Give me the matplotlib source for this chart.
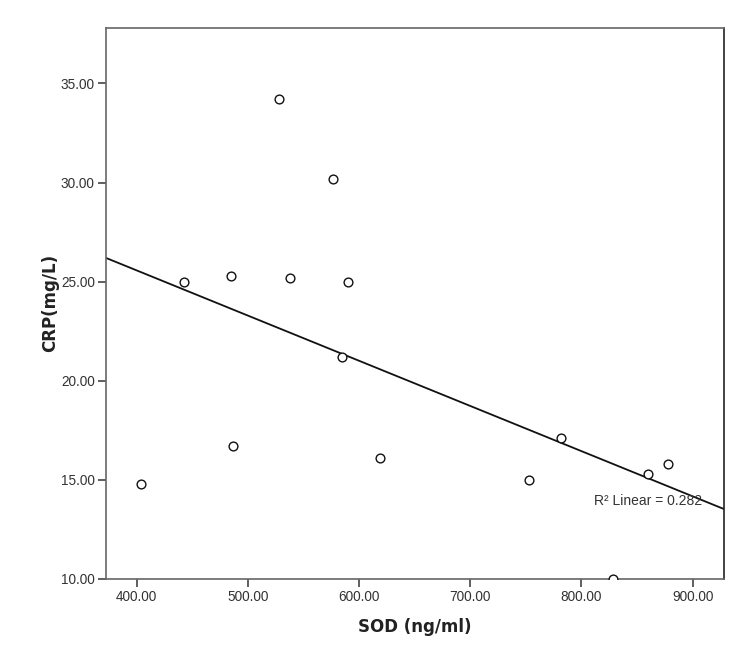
import numpy as np
import matplotlib
matplotlib.use("Agg")
import matplotlib.pyplot as plt

# Datos (SOD vs CRP)
sod = [404, 443, 485, 487, 528, 538, 577, 585, 590, 619, 753, 782, 828, 860, 878]
crp = [14.8, 25.0, 25.3, 16.7, 34.2, 25.2, 30.2, 21.2, 25.0, 16.1, 15.0, 17.1, 10.0, 15.3, 15.8]

x_ticks = [400, 500, 600, 700, 800, 900]
y_ticks = [10, 15, 20, 25, 30, 35]
x_lim = (372.4, 928)
y_lim = (10, 37.8)

plt.rcParams['font.family'] = ['DejaVu Sans']
fuente_ticks = 'Liberation Sans'

fig = plt.figure(figsize=(7.5, 6.62), dpi=100)
ax = fig.add_axes([0.1413, 0.1258, 0.8237, 0.8319])

# Recta de regresión lineal
pend, inter = np.polyfit(sod, crp, 1)
xs = np.array(x_lim)
ax.plot(xs, pend * xs + inter, color='#111111', linewidth=1.3, zorder=2)

# Puntos como círculos vacíos
ax.plot(sod, crp, linestyle='none', marker='o', markersize=6.3,
        markerfacecolor='white', markeredgecolor='#111111',
        markeredgewidth=1.0, zorder=3)

ax.text(811, 13.9, 'R² Linear = 0.282', fontsize=10, color='#333333',
        va='center', ha='left', family=fuente_ticks)

ax.set_xlim(*x_lim)
ax.set_ylim(*y_lim)
ax.set_xticks(x_ticks)
ax.set_yticks(y_ticks)
ax.set_xticklabels([f"{v:.2f}" for v in x_ticks], family=fuente_ticks)
ax.set_yticklabels([f"{v:.2f}" for v in y_ticks], family=fuente_ticks)
ax.tick_params(direction='out', length=6, width=1.2, colors='#444444',
               labelsize=9.8, labelcolor='#333333', pad=2)

for lado in ['left', 'top', 'bottom']:
    ax.spines[lado].set_color('#666666')
    ax.spines[lado].set_linewidth(1.2)
ax.spines['right'].set_color('#222222')
ax.spines['right'].set_linewidth(1.2)

ax.set_xlabel('SOD (ng/ml)', fontsize=12, fontweight='bold', color='#222222', labelpad=10)
ax.set_ylabel('CRP(mg/L)', fontsize=12, fontweight='bold', color='#222222', labelpad=1.5)

fig.savefig('out.png', dpi=100)
